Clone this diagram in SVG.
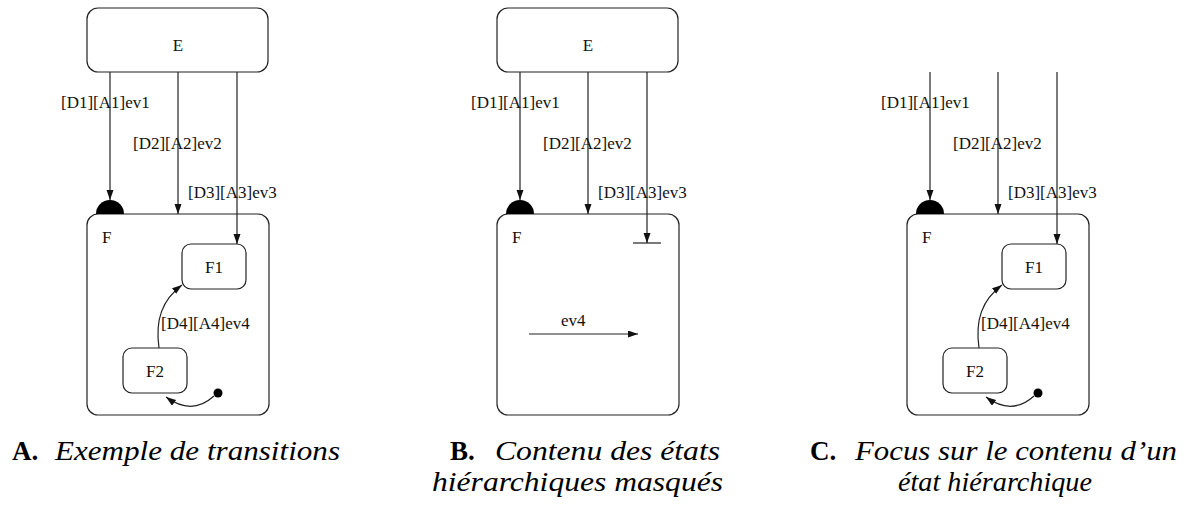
<svg xmlns="http://www.w3.org/2000/svg" width="1190" height="505" viewBox="0 0 1190 505">
<style>
.box{fill:#fff;stroke:#222;stroke-width:1.2}
.ln{fill:none;stroke:#222;stroke-width:1.2}
.t{font-family:"Liberation Serif","Times New Roman",serif;font-size:17px;fill:#111}
.c{font-family:"Liberation Serif","Times New Roman",serif;font-size:27px;fill:#000}
.cb{font-weight:bold}
.ci{font-style:italic}
</style>
<defs>
<marker id="ah" markerUnits="userSpaceOnUse" markerWidth="11" markerHeight="8" refX="10" refY="3.5" orient="auto">
<path d="M0,0 L10,3.5 L0,7 z" fill="#111"/>
</marker>
</defs>

<g id="A-E"><rect class="box" x="87" y="8" width="181" height="64" rx="11"/><text class="t" x="178" y="51" text-anchor="middle">E</text></g>
<g id="A-F"><rect class="box" x="87" y="214" width="182" height="201" rx="11"/><text class="t" x="102" y="243">F</text>
<path d="M96,214 A14,14 0 0 1 124,214 Z" fill="#000"/></g>
<g id="A-F1"><rect class="box" x="182" y="244" width="64" height="45" rx="9"/><text class="t" x="214" y="273" text-anchor="middle">F1</text></g>
<g id="A-F2"><rect class="box" x="123" y="348" width="64" height="45" rx="9"/><text class="t" x="155" y="377" text-anchor="middle">F2</text></g>
<g id="A-init"><circle cx="218" cy="393" r="4.5" fill="#000"/></g>

<g id="B-E"><rect class="box" x="497" y="8" width="181" height="64" rx="11"/><text class="t" x="588" y="51" text-anchor="middle">E</text></g>
<g id="B-F"><rect class="box" x="497" y="214" width="182" height="201" rx="11"/><text class="t" x="512" y="243">F</text>
<path d="M506,214 A14,14 0 0 1 534,214 Z" fill="#000"/>
<line class="ln" x1="633" y1="243" x2="661" y2="243"/></g>

<g id="C-F"><rect class="box" x="907" y="214" width="182" height="201" rx="11"/><text class="t" x="922" y="243">F</text>
<path d="M916,214 A14,14 0 0 1 944,214 Z" fill="#000"/></g>
<g id="C-F1"><rect class="box" x="1002" y="244" width="64" height="45" rx="9"/><text class="t" x="1034" y="273" text-anchor="middle">F1</text></g>
<g id="C-F2"><rect class="box" x="943" y="348" width="64" height="45" rx="9"/><text class="t" x="975" y="377" text-anchor="middle">F2</text></g>
<g id="C-init"><circle cx="1038" cy="393" r="4.5" fill="#000"/></g>

<g id="connectors">
<line class="ln" x1="110" y1="72" x2="110" y2="200" marker-end="url(#ah)"/>
<line class="ln" x1="178" y1="72" x2="178" y2="214" marker-end="url(#ah)"/>
<line class="ln" x1="237" y1="72" x2="237" y2="244" marker-end="url(#ah)"/>
<path class="ln" d="M159,348 C155,320 162,300 182,285" marker-end="url(#ah)"/>
<path class="ln" d="M214,396 Q192,416 166,397" marker-end="url(#ah)"/>
<text class="t" x="61" y="108">[D1][A1]ev1</text>
<text class="t" x="133" y="149">[D2][A2]ev2</text>
<text class="t" x="188" y="198">[D3][A3]ev3</text>
<text class="t" x="161" y="329">[D4][A4]ev4</text>
<line class="ln" x1="520" y1="72" x2="520" y2="200" marker-end="url(#ah)"/>
<line class="ln" x1="588" y1="72" x2="588" y2="214" marker-end="url(#ah)"/>
<line class="ln" x1="647" y1="72" x2="647" y2="243" marker-end="url(#ah)"/>
<line class="ln" x1="529" y1="334" x2="638" y2="334" marker-end="url(#ah)"/>
<text class="t" x="471" y="108">[D1][A1]ev1</text>
<text class="t" x="543" y="149">[D2][A2]ev2</text>
<text class="t" x="598" y="198">[D3][A3]ev3</text>
<text class="t" x="561" y="326">ev4</text>
<line class="ln" x1="930" y1="72" x2="930" y2="200" marker-end="url(#ah)"/>
<line class="ln" x1="998" y1="72" x2="998" y2="214" marker-end="url(#ah)"/>
<line class="ln" x1="1057" y1="72" x2="1057" y2="244" marker-end="url(#ah)"/>
<path class="ln" d="M979,348 C975,320 982,300 1002,285" marker-end="url(#ah)"/>
<path class="ln" d="M1034,396 Q1012,416 986,397" marker-end="url(#ah)"/>
<text class="t" x="881" y="108">[D1][A1]ev1</text>
<text class="t" x="953" y="149">[D2][A2]ev2</text>
<text class="t" x="1008" y="198">[D3][A3]ev3</text>
<text class="t" x="981" y="329">[D4][A4]ev4</text>
</g>

<g id="captions">
<text class="c cb" x="12" y="460">A.</text>
<text class="c ci" x="55" y="460" textLength="285" lengthAdjust="spacingAndGlyphs">Exemple de transitions</text>
<text class="c cb" x="450" y="460">B.</text>
<text class="c ci" x="495" y="460" textLength="225" lengthAdjust="spacingAndGlyphs">Contenu des états</text>
<text class="c ci" x="432" y="491" textLength="291" lengthAdjust="spacingAndGlyphs">hiérarchiques masqués</text>
<text class="c cb" x="810" y="460">C.</text>
<text class="c ci" x="855" y="460" textLength="322" lengthAdjust="spacingAndGlyphs">Focus sur le contenu d’un</text>
<text class="c ci" x="898" y="491" textLength="194" lengthAdjust="spacingAndGlyphs">état hiérarchique</text>
</g>
</svg>
